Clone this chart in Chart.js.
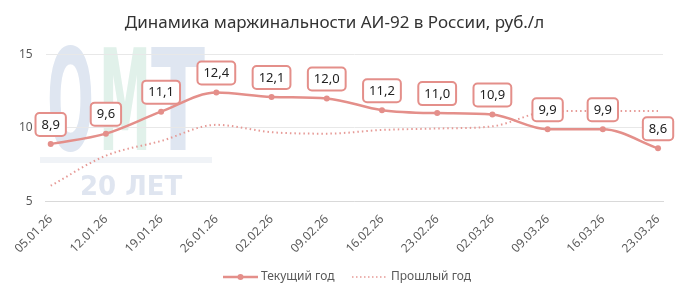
<!DOCTYPE html>
<html>
<head>
<meta charset="utf-8">
<script src="https://cdn.jsdelivr.net/npm/chart.js@4"></script>
<style>
html,body{margin:0;padding:0;background:#fff;}
#wrap{width:686px;height:299px;position:relative;}
</style>
</head>
<body>
<div id="wrap"><canvas id="c" width="686" height="299"></canvas></div>
<script>
const titleText = "Динамика маржинальности АИ-92 в России, руб./л";
const categories = ["05.01.26","12.01.26","19.01.26","26.01.26","02.02.26","09.02.26","16.02.26","23.02.26","02.03.26","09.03.26","16.03.26","23.03.26"];
const currentYear = [8.9, 9.6, 11.1, 12.4, 12.1, 12.0, 11.2, 11.0, 10.9, 9.9, 9.9, 8.6];
const lastYear = [6.05, 8.1, 9.1, 10.2, 9.7, 9.6, 9.85, 9.95, 10.1, 11.1, 11.15, 11.15];
const seriesNames = ["Текущий год", "Прошлый год"];
const yTicks = [5, 10, 15];

const FONT = "'Noto Sans', 'Open Sans', sans-serif";
const LINE = "#e48f8a";
const DOT = "#e69a96";

const watermark = {
  id: 'watermark',
  beforeDraw(chart) {
    const ctx = chart.ctx;
    ctx.save();
    function letter(ch, x, y, w, h, color) {
      ctx.save();
      ctx.font = "bold 100px 'DejaVu Sans'";
      const m = ctx.measureText(ch);
      ctx.translate(x, y + h);
      ctx.scale(w / m.width, h / 73);
      ctx.fillStyle = color;
      ctx.textBaseline = 'alphabetic';
      ctx.fillText(ch, 0, 0);
      ctx.restore();
    }
    letter("O", 47, 47, 47, 103, "#dfe6f1");
    letter("M", 99, 47, 52, 103, "#e1f1ea");
    letter("T", 151, 47, 54, 103, "#dfe6f1");
    ctx.fillStyle = "#f0f3f7";
    ctx.fillRect(40, 157, 172, 6);
    ctx.font = "bold 26px 'DejaVu Sans'";
    ctx.fillStyle = "#dfe5f0";
    ctx.textBaseline = 'alphabetic';
    ctx.fillText("20 ЛЕТ", 80, 195);
    ctx.restore();
  }
};

const labelsPlugin = {
  id: 'valueLabels',
  afterDatasetsDraw(chart) {
    const ctx = chart.ctx;
    const meta = chart.getDatasetMeta(0);
    ctx.save();
    ctx.font = "13px " + FONT;
    ctx.textAlign = 'center';
    ctx.textBaseline = 'middle';
    meta.data.forEach((pt, i) => {
      const txt = currentYear[i].toFixed(1).replace('.', ',');
      const w = ctx.measureText(txt).width + 12;
      const h = 23;
      const x = pt.x - w / 2;
      const y = pt.y - 8 - h;
      ctx.beginPath();
      ctx.roundRect(x, y, w, h, 4);
      ctx.fillStyle = "#fff";
      ctx.fill();
      ctx.lineWidth = 2;
      ctx.strokeStyle = LINE;
      ctx.stroke();
      ctx.fillStyle = "#222";
      ctx.fillText(txt, pt.x, y + h / 2 + 0.5);
    });
    ctx.restore();
  }
};

const legendPlugin = {
  id: 'customLegend',
  afterDraw(chart) {
    const ctx = chart.ctx;
    const y = 277;
    ctx.save();
    ctx.font = "12px " + FONT;
    ctx.textBaseline = 'middle';
    ctx.fillStyle = "#595959";
    ctx.strokeStyle = LINE; ctx.lineWidth = 2.5;
    ctx.beginPath(); ctx.moveTo(223, y); ctx.lineTo(258, y); ctx.stroke();
    ctx.beginPath(); ctx.arc(240.5, y, 3, 0, Math.PI * 2); ctx.fillStyle = LINE; ctx.fill();
    ctx.fillStyle = "#595959";
    ctx.fillText(seriesNames[0], 261, y);
    ctx.strokeStyle = DOT; ctx.lineWidth = 1.5; ctx.setLineDash([1.5, 2.5]);
    ctx.beginPath(); ctx.moveTo(352, y); ctx.lineTo(386, y); ctx.stroke();
    ctx.setLineDash([]);
    ctx.fillText(seriesNames[1], 391, y);
    ctx.restore();
  }
};

new Chart(document.getElementById('c'), {
  type: 'line',
  data: {
    datasets: [
      {
        label: seriesNames[0],
        data: currentYear.map((v, i) => ({x: i, y: v})),
        borderColor: LINE,
        backgroundColor: LINE,
        borderWidth: 2.5,
        pointRadius: 3,
        pointBackgroundColor: LINE,
        pointBorderWidth: 0,
        tension: 0.4,
        cubicInterpolationMode: 'monotone'
      },
      {
        label: seriesNames[1],
        data: lastYear.map((v, i) => ({x: i, y: v})),
        borderColor: DOT,
        borderWidth: 2,
        borderDash: [1.5, 3],
        pointRadius: 0,
        tension: 0.4,
        cubicInterpolationMode: 'monotone'
      }
    ]
  },
  options: {
    responsive: false,
    animation: false,
    layout: { padding: { left: 6, right: 23, top: 0, bottom: 40 } },
    plugins: {
      legend: { display: false },
      tooltip: { enabled: false },
      title: {
        display: true,
        text: titleText,
        color: "#333",
        font: { family: FONT, size: 17, weight: 'normal' },
        padding: { top: 13, bottom: 21 }
      }
    },
    scales: {
      x: {
        type: 'linear',
        min: -0.09,
        max: 11.09,
        grid: { display: false },
        border: { display: true, color: "#d9d9d9" },
        ticks: {
          stepSize: 1,
          includeBounds: false,
          autoSkip: false,
          maxRotation: 45,
          minRotation: 45,
          color: "#595959",
          font: { family: FONT, size: 12 },
          callback: (v) => categories[v] !== undefined && Number.isInteger(v) ? categories[v] : ''
        }
      },
      y: {
        min: 5,
        max: 15,
        afterBuildTicks: (axis) => { axis.ticks = yTicks.map(v => ({value: v})); },
        grid: { color: "#e8e8e8", drawTicks: false },
        border: { display: false },
        ticks: {
          padding: 13,
          color: "#595959",
          font: { family: FONT, size: 12 }
        }
      }
    }
  },
  plugins: [watermark, labelsPlugin, legendPlugin]
});
</script>
</body>
</html>
